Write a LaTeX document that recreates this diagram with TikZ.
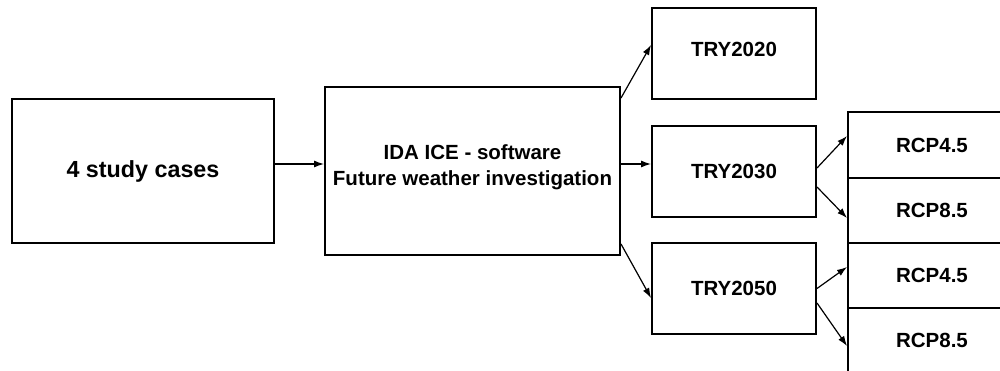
\documentclass[tikz,border=0pt]{standalone}
\usepackage{fontspec}
\setmainfont{Liberation Sans}
\usetikzlibrary{arrows.meta}
\begin{document}
\begin{tikzpicture}[x=1pt,y=-1pt,
  box/.style={draw=black, line width=2pt, rectangle, inner sep=0pt, align=center,
    font=\bfseries\fontsize{20.5}{26}\selectfont},
  conn/.style={line width=1.2pt, -{Latex[length=10pt,width=7pt]}}]
\useasboundingbox (0,0) rectangle (1000,371);
\clip (0,0) rectangle (1000,371);
\fill[white] (0,0) rectangle (1000,371);
\node[box, minimum width=262pt, minimum height=144pt, font=\bfseries\fontsize{23.3}{28}\selectfont] (a) at (143,171) {4 study cases};
\node[box, minimum width=295pt, minimum height=168pt] (b) at (472.5,171) {\raisebox{-1.3pt}[0pt][0pt]{\begin{tabular}{@{}c@{}}IDA ICE - software\\Future weather investigation\end{tabular}}};
\node[box, minimum width=164pt, minimum height=91pt] (t20) at (734,53.5) {\raisebox{9pt}{TRY2020}};
\node[box, minimum width=164pt, minimum height=91pt] (t30) at (734,171.5) {TRY2030};
\node[box, minimum width=164pt, minimum height=91pt] (t50) at (734,288.5) {TRY2050};
\node[box, minimum width=168pt, minimum height=66pt] (r1) at (932,145) {RCP4.5};
\node[box, minimum width=168pt, minimum height=65pt] (r2) at (932,210.5) {RCP8.5};
\node[box, minimum width=168pt, minimum height=65pt] (r3) at (932,275.5) {RCP4.5};
\node[box, minimum width=168pt, minimum height=65pt] (r4) at (932,340.5) {RCP8.5};
\draw[conn] ([yshift=7pt]a.east) -- ([yshift=7pt]b.west);
\draw[conn] ([yshift=73pt]b.east) -- ([yshift=8.5pt]t20.west);
\draw[conn] ([yshift=7pt]b.east) -- ([yshift=7.5pt]t30.west);
\draw[conn] ([yshift=-73pt]b.east) -- ([yshift=-9.5pt]t50.west);
\draw[conn] ([yshift=3.5pt]t30.east) -- ([yshift=9pt]r1.west);
\draw[conn] ([yshift=-15.5pt]t30.east) -- ([yshift=-7.5pt]r2.west);
\draw[conn] (t50.east) -- ([yshift=8.5pt]r3.west);
\draw[conn] ([yshift=-14.5pt]t50.east) -- ([yshift=-5.5pt]r4.west);
\end{tikzpicture}
\end{document}
